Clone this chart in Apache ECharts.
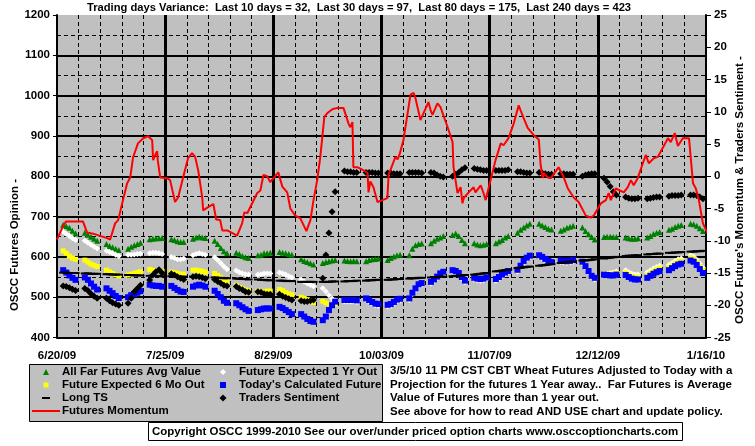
<!DOCTYPE html>
<html><head><meta charset="utf-8">
<script src="https://cdn.jsdelivr.net/npm/echarts/dist/echarts.min.js"></script>
<style>html,body{margin:0;padding:0;background:#fff}#c{width:755px;height:446px}</style>
</head><body><div id="c"></div>
<script>
// x tick labels (every 35 days from 6/20/09)
const xTickLabels = ['6/20/09','7/25/09','8/29/09','10/03/09','11/07/09','12/12/09','1/16/10'];
// Trading days: 30 weeks starting Saturday 6/20/09, Mon..Fri = day offsets 2..6 of each week
const tradingDays = [];
for (let w = 0; w < 30; w++) for (let d = 2; d <= 6; d++) tradingDays.push(7 * w + d);

// All Far Futures Avg Value (left axis), one row per week Mon..Fri
const farFutures = [
680,676,672,665,658, 660,655,650,645,640, 632,627,624,620,617, 620,625,629,632,635,
644,645,646,646,647, 644,642,639,637,637, 645,648,650,648,647, 640,632,622,614,609,
610,607,602,599,597, 604,605,609,609,610, 612,610,609,607,605, 594,590,587,584,581,
585,587,589,591,592, 591,590,589,590,589, 589,592,594,595,596, 592,597,601,604,605,
604,620,629,632,633, 634,640,645,648,652, 654,658,652,642,634, 634,631,629,630,632,
634,638,642,648,652, 660,667,673,678,682, 682,678,674,670,668, 665,668,672,675,677,
673,664,656,649,643, 649,650,650,649,649, 648,646,645,645,646, 648,652,657,660,662,
667,670,674,677,679, 682,681,677,671,664];
// Future Expected 1 Yr Out
const oneYrOut = [
663,657,652,646,642, 640,635,630,625,621, 615,612,609,605,602, 605,605,606,607,608,
609,610,610,609,607, 600,597,594,594,596, 604,607,609,607,605, 599,592,584,576,569,
566,562,559,557,556, 556,557,559,559,559, 561,559,556,552,549, 543,538,534,530,527,
522,514,505,497,492, 489,489,489,489,488, 493,489,484,480,479, 477,479,484,490,492,
493,507,518,528,531, 534,540,547,555,559, 563,561,556,546,537, 544,542,541,542,545,
541,546,552,557,561, 564,574,586,594,599, 600,596,591,586,583, 587,586,585,586,588,
584,573,561,549,544, 558,558,560,561,564, 567,562,558,556,556, 561,566,571,575,578,
580,585,590,594,596, 604,601,593,583,573];
// Future Expected 6 Mo Out
const sixMoOut = [
615,609,602,597,594, 592,587,582,579,576, 567,563,559,555,553, 555,557,559,561,563,
569,567,566,566,564, 562,561,559,557,557, 567,567,566,564,562, 559,554,549,544,541,
529,524,521,518,516, 515,513,513,515,515, 519,516,511,508,506, 500,497,494,490,487,
490,486,483,482,483, 492,492,492,492,491, 496,492,487,483,482, 480,482,487,493,495,
496,510,521,531,534, 537,543,550,558,562, 566,564,559,549,540, 547,545,544,545,548,
544,549,555,560,564, 567,577,589,597,602, 603,599,594,589,586, 590,589,588,589,591,
587,576,564,552,547, 557,557,557,558,560, 561,556,552,550,550, 555,560,565,569,572,
574,579,584,588,590, 598,595,587,577,567];
// Today's Calculated Future
const todayCalc = [
567,561,554,548,543, 549,543,534,526,519, 522,516,510,503,498, 500,505,508,511,515,
531,529,528,528,526, 528,523,518,514,513, 526,529,531,529,526, 516,508,500,491,486,
485,480,475,470,466, 468,470,472,472,472, 476,473,468,463,458, 458,452,446,441,439,
443,452,468,480,489, 493,493,493,493,492, 497,493,488,484,483, 481,483,488,494,496,
497,511,522,532,535, 538,544,551,559,563, 567,565,560,550,541, 548,546,545,546,549,
545,550,556,561,565, 568,578,590,598,603, 604,600,595,590,587, 591,590,589,590,592,
588,577,565,553,548, 556,555,554,554,556, 555,550,546,544,544, 548,553,558,562,565,
567,572,577,581,583, 591,588,580,570,560];
// Long TS
const longTS = [
561,561,560,560,560, 559,559,558,558,558, 557,557,556,556,556, 555,555,554,554,554,
553,553,553,552,552, 552,552,551,551,551, 551,550,550,550,549, 549,548,548,547,547,
546,546,545,545,544, 544,543,543,542,542, 541,541,540,540,540, 538,538,538,538,538,
538,538,538,539,539, 539,540,540,540,541, 541,542,542,543,543, 543,544,544,545,545,
546,547,547,548,548, 549,550,550,551,551, 552,553,553,554,555, 556,557,558,559,560,
564,565,566,567,568, 572,573,574,575,576, 578,579,580,581,582, 585,586,587,588,588,
591,591,592,593,594, 596,597,598,599,600, 602,603,603,604,604, 606,607,607,608,608,
610,610,611,611,612, 613,613,614,614,615];
// Traders Sentiment (right axis)
const sentiment = [
-17.0,-17.1,-17.3,-17.5,-17.7, -17.4,-17.7,-18.2,-18.6,-18.9, -18.9,-19.3,-19.6,-19.8,-20.0,
-19.7,-18.9,-17.9,-17.4,-16.9, -16.1,-15.3,-14.8,-14.5,-15.0, -15.1,-15.3,-15.6,-15.8,-16.0,
-15.6,-15.5,-15.6,-15.7,-15.9, -16.0,-16.3,-16.6,-16.9,-17.0, -17.1,-17.4,-17.6,-17.9,-18.0,
-17.9,-18.0,-18.2,-18.3,-18.3, -18.3,-18.6,-18.8,-19.0,-19.2, -19.3,-19.4,-19.4,-19.3,-19.2,
-15.8,-12.2,-8.8,-5.5,-2.4, 0.8,0.7,0.7,0.6,0.6, 0.6,0.6,0.6,0.5,0.5,
0.5,0.5,0.4,0.4,0.4, 0.6,0.6,0.6,0.6,0.5, 0.6,0.5,0.2,0.0,-0.1,
0.0,0.3,0.6,1.0,1.3, 1.2,1.1,1.0,0.9,0.9, 0.9,0.9,0.9,0.9,1.0,
0.7,0.7,0.6,0.5,0.5, 0.6,0.5,0.4,0.3,0.3, 0.4,0.4,0.3,0.3,0.3,
0.0,0.2,0.3,0.4,0.4, -0.3,-0.9,-1.6,-2.4,-2.9, -3.2,-3.4,-3.5,-3.5,-3.4,
-3.5,-3.4,-3.3,-3.2,-3.2, -3.1,-3.0,-3.0,-3.0,-2.9, -2.9,-2.9,-3.0,-3.2,-3.5];
// Futures Momentum (right axis): day offsets and values
const momentumDays = [0,1.9,2.9,8.4,9.7,11.7,16.2,17.2,18.8,19.8,21.1,22.7,23.7,24.6,26.2,27.9,29.5,30.8,31.1,31.8,32.4,32.6,33.4,35.6,36.6,38.2,39.2,40.8,42.4,43.7,44.7,45.7,47.0,47.3,48.9,50.6,51.5,52.8,53.5,55.1,58.3,59.9,60.6,61.6,64.8,65.8,66.8,68.0,69.0,71.6,72.9,74.5,75.5,77.1,78.7,80.7,82.0,83.0,84.2,85.2,86.5,87.5,89.1,90.7,92.7,94.3,94.9,95.6,95.9,97.2,99.2,100.5,100.8,101.4,102.4,103.7,105.3,106.9,107.3,109.5,110.2,110.8,112.1,114.4,115.4,116.0,117.6,120.2,120.9,121.5,123.1,124.1,126.4,128.0,128.3,129.6,130.6,131.2,131.6,133.2,134.8,135.4,137.1,138.0,138.7,139.3,140.3,141.9,143.6,144.5,146.1,147.8,149.4,150.0,151.0,152.3,154.2,155.9,156.5,157.2,157.5,158.8,159.8,162.3,164.0,165.3,167.2,168.8,171.1,172.7,173.7,176.0,177.6,178.5,179.2,179.8,180.8,183.4,184.7,185.7,186.6,187.9,190.5,191.5,193.1,194.4,197.7,198.6,199.9,200.9,202.5,204.5,205.8,206.7,207.7,209.0,211.6];
const momentum = [-9.8,-7.8,-7.0,-7.0,-8.7,-8.9,-9.6,-9.8,-7.3,-6.8,-4.2,-1.1,-0.2,2.9,5.1,5.9,6.2,5.6,2.5,3.3,3.9,2.5,-0.2,-0.3,-0.6,-4.0,-3.3,-0.2,2.8,3.6,3.0,0.9,-3.3,-5.3,-4.8,-4.3,-6.7,-6.8,-8.4,-8.4,-9.2,-7.3,-5.6,-5.7,-2.6,-2.2,0.2,0.0,-0.9,0.6,-1.6,-2.5,-5.0,-6.1,-6.5,-8.5,-6.8,-3.7,-0.6,3.0,9.2,9.8,10.4,10.6,10.6,8.2,7.6,8.4,1.4,1.4,0.9,0.5,-2.5,-0.8,-1.7,-4.0,-3.7,-3.4,0.2,3.0,2.6,3.3,5.6,12.7,12.9,12.1,8.7,11.5,10.2,9.5,11.3,10.7,7.6,5.3,1.4,-2.6,-1.7,-4.2,-3.4,-2.5,-1.7,-2.5,-1.4,-2.6,-3.7,-2.5,-0.6,2.5,5.1,4.8,5.9,8.2,11.0,10.2,9.0,7.5,6.4,5.7,1.7,-0.3,0.5,-0.2,-0.3,1.4,-0.2,-1.9,-3.3,-4.0,-6.1,-6.4,-6.1,-4.2,-3.7,-2.6,-3.7,-3.0,-1.9,-2.5,-1.7,-0.6,-1.4,-0.3,3.3,2.0,2.8,3.0,5.9,5.3,6.7,4.7,5.9,5.9,-1.1,-1.9,-3.7,-7.3,-10.0];

const FONT = 'Liberation Sans';
const FS = 11.5;
const pair = arr => arr.map((v, i) => [tradingDays[i], v]);

const chart = echarts.init(document.getElementById('c'), null, {renderer: 'canvas'});
const lbl = {color: '#000', fontFamily: FONT, fontWeight: 'bold', fontSize: FS};
const font = 'bold ' + FS + 'px "' + FONT + '"';
const titleFont = 'bold 11.2px "' + FONT + '"';
// one legend component per entry so every icon / text can be placed like the original
function leg(name, icon, w, h, iconCx, rowCy, textX) {
  const left = iconCx - w / 2;
  return {orient: 'vertical', left: left, top: rowCy - 6.5, itemWidth: w, itemHeight: h, padding: 0,
    selectedMode: false, data: [{name: name, icon: icon}],
    textStyle: Object.assign({lineHeight: 13, padding: [0, 0, 0, textX - (left + w + 5)]}, lbl)};
}
chart.setOption({
  animation: false,
  backgroundColor: '#fff',
  grid: {left: 57, right: 49, top: 15, bottom: 108.5, show: true, backgroundColor: '#c0c0c0', borderWidth: 0},
  xAxis: {
    type: 'value', min: 0, max: 210, interval: 35,
    axisLine: {show: true, onZero: false, lineStyle: {color: '#000', width: 2}},
    axisTick: {show: false},
    axisLabel: Object.assign({margin: 12, formatter: v => xTickLabels[Math.round(v / 35)]}, lbl),
    splitLine: {show: true, showMinLine: false, showMaxLine: false, lineStyle: {color: '#000', width: 3}},
    minorTick: {show: false, splitNumber: 5},
    minorSplitLine: {show: true, lineStyle: {color: '#000', width: 1, type: [4, 3]}}
  },
  yAxis: [{
    type: 'value', min: 400, max: 1200, interval: 100,
    axisLine: {show: true, lineStyle: {color: '#000', width: 2}},
    axisTick: {show: true, length: 4, lineStyle: {color: '#000'}},
    axisLabel: Object.assign({margin: 7, formatter: v => String(v)}, lbl),
    splitLine: {show: true, showMinLine: false, showMaxLine: false, lineStyle: {color: '#000', width: 2}},
    minorTick: {show: false, splitNumber: 2},
    minorSplitLine: {show: true, lineStyle: {color: '#000', width: 1, type: [4, 3]}}
  }, {
    type: 'value', min: -25, max: 25, interval: 5, position: 'right',
    axisLine: {show: true, lineStyle: {color: '#000', width: 2}},
    axisTick: {show: true, length: 5, lineStyle: {color: '#000'}},
    axisLabel: Object.assign({margin: 8, formatter: v => String(v)}, lbl),
    splitLine: {show: false}
  }],
  legend: [
    leg('All Far Futures Avg Value', 'triangle', 6, 6, 46, 372, 62),
    leg('Future Expected 6 Mo Out', 'rect', 5, 5, 46, 385, 62),
    leg('Long TS', 'rect', 8, 2, 46, 398, 62),
    leg('Futures Momentum', 'rect', 28, 2, 46, 411, 62),
    leg('Future Expected 1 Yr Out', 'diamond', 6, 6, 223, 372, 239),
    leg("Today's Calculated Future", 'rect', 6, 6, 223, 385, 239),
    leg('Traders Sentiment', 'diamond', 7, 7, 223, 398, 239)
  ],
  graphic: [
    {type: 'text', x: 359, y: 8, style: {text: 'Trading days Variance:  Last 10 days = 32,  Last 30 days = 97,  Last 80 days = 175,  Last 240 days = 423', fill: '#000', font: titleFont, align: 'center', verticalAlign: 'middle'}},
    {type: 'text', x: 15, y: 245, rotation: Math.PI / 2, style: {text: 'OSCC Futures Opinion -', fill: '#000', font: font, align: 'center', verticalAlign: 'middle'}},
    {type: 'text', x: 740, y: 190, rotation: Math.PI / 2, style: {text: "OSCC Future's Momentum & Traders Sentiment -", fill: '#000', font: font, align: 'center', verticalAlign: 'middle'}},
    {type: 'rect', shape: {x: 29.5, y: 364.5, width: 353, height: 57}, style: {fill: '#c0c0c0', stroke: '#000', lineWidth: 1}, z: -1},
    {type: 'text', x: 390, y: 371, style: {text: '3/5/10 11 PM CST CBT Wheat Futures Adjusted to Today with a', fill: '#000', font: font, verticalAlign: 'middle'}},
    {type: 'text', x: 390, y: 384.5, style: {text: 'Projection for the futures 1 Year away..  Far Futures is Average', fill: '#000', font: font, verticalAlign: 'middle'}},
    {type: 'text', x: 390, y: 398, style: {text: 'Value of Futures more than 1 year out.', fill: '#000', font: font, verticalAlign: 'middle'}},
    {type: 'text', x: 390, y: 411.5, style: {text: 'See above for how to read AND USE chart and update policy.', fill: '#000', font: font, verticalAlign: 'middle'}},
    {type: 'rect', shape: {x: 148.5, y: 422.5, width: 534, height: 18}, style: {fill: '#fff', stroke: '#000', lineWidth: 1}},
    {type: 'text', x: 152, y: 431.5, style: {text: 'Copyright OSCC 1999-2010 See our over/under priced option charts www.osccoptioncharts.com', fill: '#000', font: font, verticalAlign: 'middle'}}
  ],
  series: [
    {name: 'All Far Futures Avg Value', type: 'scatter', data: pair(farFutures), symbol: 'triangle', symbolSize: 6, itemStyle: {color: '#008000', opacity: 1}},
    {name: 'Future Expected 1 Yr Out', type: 'scatter', data: pair(oneYrOut), symbol: 'diamond', symbolSize: 6, itemStyle: {color: '#ffffff', opacity: 1}},
    {name: 'Future Expected 6 Mo Out', type: 'scatter', data: pair(sixMoOut), symbol: 'rect', symbolSize: 5, itemStyle: {color: '#ffff00', opacity: 1}},
    {name: "Today's Calculated Future", type: 'scatter', data: pair(todayCalc), symbol: 'rect', symbolSize: 6, itemStyle: {color: '#0000ff', opacity: 1}},
    {name: 'Long TS', type: 'scatter', data: pair(longTS), symbol: 'rect', symbolSize: [8, 2], itemStyle: {color: '#000', opacity: 1}},
    {name: 'Traders Sentiment', type: 'scatter', yAxisIndex: 1, data: pair(sentiment), symbol: 'diamond', symbolSize: 7, itemStyle: {color: '#000', opacity: 1}},
    {name: 'Futures Momentum', type: 'line', yAxisIndex: 1, data: momentum.map((v, i) => [momentumDays[i], v]), symbol: 'none', clip: false, lineStyle: {color: '#ff0000', width: 2}, itemStyle: {color: '#ff0000'}}
  ]
});
</script></body></html>
